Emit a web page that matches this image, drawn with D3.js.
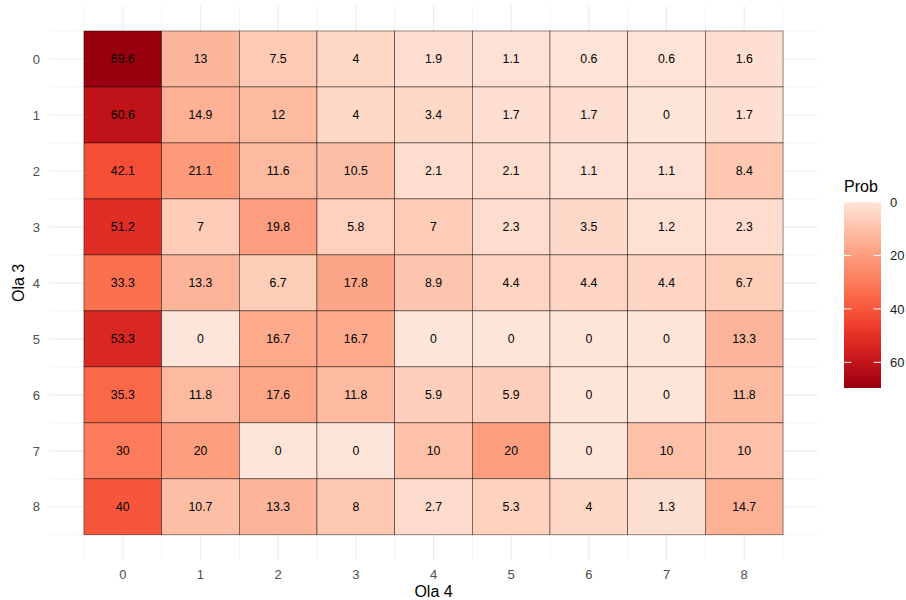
<!DOCTYPE html>
<html>
<head>
<meta charset="utf-8">
<script src="https://cdn.jsdelivr.net/npm/d3@7"></script>
<style>
  html, body { margin: 0; padding: 0; background: #fff; }
  svg { display: block; font-family: "Liberation Sans", Arial, sans-serif; }
</style>
</head>
<body>
<svg id="chart" width="906" height="600"></svg>
<script>
// Transition probabilities (%) from wave 3 (rows) to wave 4 (columns)
const ola3 = [0, 1, 2, 3, 4, 5, 6, 7, 8];
const ola4 = [0, 1, 2, 3, 4, 5, 6, 7, 8];
const row0 = [69.6, 13, 7.5, 4, 1.9, 1.1, 0.6, 0.6, 1.6];
const row1 = [60.6, 14.9, 12, 4, 3.4, 1.7, 1.7, 0, 1.7];
const row2 = [42.1, 21.1, 11.6, 10.5, 2.1, 2.1, 1.1, 1.1, 8.4];
const row3 = [51.2, 7, 19.8, 5.8, 7, 2.3, 3.5, 1.2, 2.3];
const row4 = [33.3, 13.3, 6.7, 17.8, 8.9, 4.4, 4.4, 4.4, 6.7];
const row5 = [53.3, 0, 16.7, 16.7, 0, 0, 0, 0, 13.3];
const row6 = [35.3, 11.8, 17.6, 11.8, 5.9, 5.9, 0, 0, 11.8];
const row7 = [30, 20, 0, 0, 10, 20, 0, 10, 10];
const row8 = [40, 10.7, 13.3, 8, 2.7, 5.3, 4, 1.3, 14.7];
const rows = [row0, row1, row2, row3, row4, row5, row6, row7, row8];
const legendTicks = [0, 20, 40, 60];
const redsPalette = ["#FEE5D9", "#FCBBA1", "#FC9272", "#FB6A4A", "#EF3B2C", "#CB181D", "#99000D"];

const cells = [];
rows.forEach((vals, i) => vals.forEach((v, j) => cells.push({ r: ola3[i], c: ola4[j], v })));

const svg = d3.select("#chart");

const panel = { left: 49, right: 818, top: 5.8, bottom: 560 };
const x = d3.scaleLinear().domain([-0.95, 8.95]).range([panel.left, panel.right]);
const y = d3.scaleLinear().domain([-0.95, 8.95]).range([panel.top, panel.bottom]);

const vmax = d3.max(cells, d => d.v);
const vmin = d3.min(cells, d => d.v);
const interp = d3.piecewise(d3.interpolateLab, redsPalette);
const color = v => interp((v - vmin) / (vmax - vmin));

// Grid: minor lines at tile edges, major lines at tile centres
const minor = d3.range(-0.5, 9, 1);
const g = svg.append("g");
g.selectAll(".vminor").data(minor).join("line")
  .attr("x1", d => x(d)).attr("x2", d => x(d))
  .attr("y1", panel.top).attr("y2", panel.bottom)
  .attr("stroke", "#EBEBEB").attr("stroke-width", 0.55);
g.selectAll(".hminor").data(minor).join("line")
  .attr("y1", d => y(d)).attr("y2", d => y(d))
  .attr("x1", panel.left).attr("x2", panel.right)
  .attr("stroke", "#EBEBEB").attr("stroke-width", 0.55);
g.selectAll(".vmajor").data(ola4).join("line")
  .attr("x1", d => x(d)).attr("x2", d => x(d))
  .attr("y1", panel.top).attr("y2", panel.bottom)
  .attr("stroke", "#EBEBEB").attr("stroke-width", 1.1);
g.selectAll(".hmajor").data(ola3).join("line")
  .attr("y1", d => y(d)).attr("y2", d => y(d))
  .attr("x1", panel.left).attr("x2", panel.right)
  .attr("stroke", "#EBEBEB").attr("stroke-width", 1.1);

// Tiles
svg.append("g").selectAll("rect").data(cells).join("rect")
  .attr("x", d => x(d.c - 0.5))
  .attr("y", d => y(d.r - 0.5))
  .attr("width", d => x(d.c + 0.5) - x(d.c - 0.5))
  .attr("height", d => y(d.r + 0.5) - y(d.r - 0.5))
  .attr("fill", d => color(d.v))
  .attr("stroke", "#000").attr("stroke-opacity", 0.7).attr("stroke-width", 0.6);

// Tile labels
svg.append("g").selectAll("text").data(cells).join("text")
  .attr("x", d => x(d.c))
  .attr("y", d => y(d.r))
  .attr("dy", "0.36em")
  .attr("text-anchor", "middle")
  .attr("font-size", 12.3)
  .attr("fill", "#000")
  .text(d => d3.format("~r")(d.v));

// Axis tick labels
svg.append("g").selectAll("text").data(ola4).join("text")
  .attr("x", d => x(d)).attr("y", 578.5)
  .attr("text-anchor", "middle").attr("font-size", 13).attr("fill", "#4D4D4D")
  .text(d => d);
svg.append("g").selectAll("text").data(ola3).join("text")
  .attr("x", 40).attr("y", d => y(d)).attr("dy", "0.36em")
  .attr("text-anchor", "end").attr("font-size", 13).attr("fill", "#4D4D4D")
  .text(d => d);

// Axis titles
svg.append("text").attr("x", x(4)).attr("y", 597)
  .attr("text-anchor", "middle").attr("font-size", 16).attr("fill", "#000")
  .text("Ola 4");
svg.append("text")
  .attr("transform", `translate(24, ${y(4)}) rotate(-90)`)
  .attr("text-anchor", "middle").attr("font-size", 16).attr("fill", "#000")
  .text("Ola 3");

// Colour bar legend (0 at top)
const lg = { x: 844, w: 37, top: 202, bottom: 388 };
const ly = d3.scaleLinear().domain([vmin, vmax]).range([lg.top, lg.bottom]);
const defs = svg.append("defs");
const grad = defs.append("linearGradient").attr("id", "probGrad")
  .attr("x1", 0).attr("y1", 0).attr("x2", 0).attr("y2", 1);
d3.range(0, 1.0001, 0.05).forEach(t => {
  grad.append("stop").attr("offset", t).attr("stop-color", interp(t));
});
svg.append("rect").attr("x", lg.x).attr("y", lg.top)
  .attr("width", lg.w).attr("height", lg.bottom - lg.top)
  .attr("fill", "url(#probGrad)");
const tickLen = lg.w / 5;
const lt = svg.append("g");
legendTicks.forEach(t => {
  lt.append("line").attr("x1", lg.x).attr("x2", lg.x + tickLen)
    .attr("y1", ly(t)).attr("y2", ly(t)).attr("stroke", "#fff").attr("stroke-width", 1);
  lt.append("line").attr("x1", lg.x + lg.w - tickLen).attr("x2", lg.x + lg.w)
    .attr("y1", ly(t)).attr("y2", ly(t)).attr("stroke", "#fff").attr("stroke-width", 1);
  lt.append("text").attr("x", lg.x + lg.w + 9).attr("y", ly(t)).attr("dy", "0.36em")
    .attr("font-size", 13).attr("fill", "#1A1A1A").text(t);
});
svg.append("text").attr("x", 844).attr("y", 192)
  .attr("font-size", 16).attr("fill", "#000").text("Prob");
</script>
</body>
</html>
